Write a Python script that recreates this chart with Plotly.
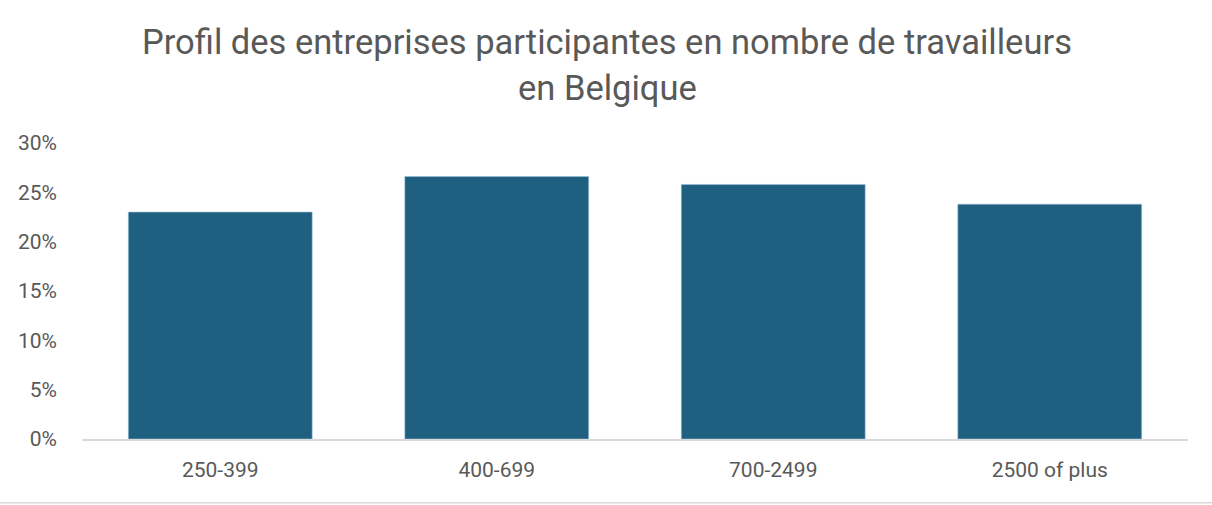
import plotly.graph_objects as go

categories = ["250-399", "400-699", "700-2499", "2500 of plus"]
values = [0.230, 0.266, 0.258, 0.238]
y_ticks = [0, 0.05, 0.10, 0.15, 0.20, 0.25, 0.30]
y_tick_labels = ["0%", "5%", "10%", "15%", "20%", "25%", "30%"]

title_lines = ["Profil des entreprises participantes en nombre de travailleurs", "en Belgique"]

fig = go.Figure(go.Bar(
    x=categories, y=values,
    marker=dict(color="#1F5F80", line=dict(color="#9CC3DA", width=0.6)),
    hoverinfo="skip",
))

fig.update_layout(
    width=1212, height=505,
    paper_bgcolor="white", plot_bgcolor="white",
    margin=dict(l=82, r=24, t=143, b=66),
    bargap=0.335,
    showlegend=False,
    font=dict(family="Roboto", color="#595959"),
)
for i, line in enumerate(title_lines):
    fig.add_annotation(text=line, xref="paper", yref="paper", x=0.475, y=1.0, yshift=101 - 46 * i,
                       xanchor="center", yanchor="middle", showarrow=False,
                       font=dict(family="Roboto", size=34.5, color="#595959"))
fig.update_xaxes(
    showgrid=False, showline=True, linecolor="#D9D9D9", linewidth=1.5,
    ticks="", tickfont=dict(size=21, color="#595959"), ticklabelstandoff=11,
)
fig.update_yaxes(
    range=[0, 0.30], tickvals=y_ticks, ticktext=y_tick_labels,
    showgrid=False, zeroline=False, showline=False, ticks="",
    tickfont=dict(size=21, color="#595959"), ticklabelstandoff=24,
)
fig.add_shape(type="line", xref="paper", yref="paper", x0=-0.08, x1=1.03, y0=-0.215, y1=-0.215,
              line=dict(color="#D9D9D9", width=1.5))

fig.write_html("out.html", config={"displayModeBar": False},
               post_script="document.body.style.margin='0';document.body.style.overflow='hidden';")
